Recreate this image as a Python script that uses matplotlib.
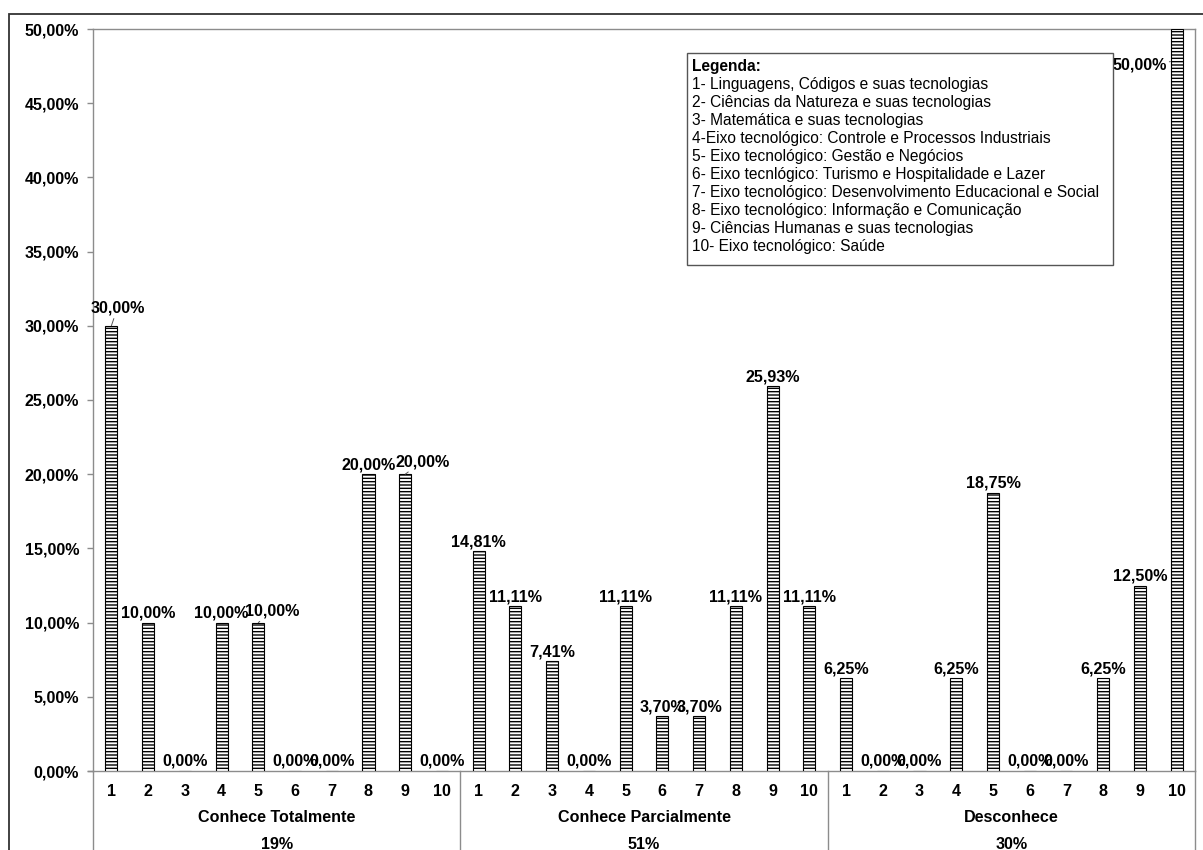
import matplotlib
matplotlib.use("Agg")
import matplotlib.pyplot as plt
from matplotlib.patches import Rectangle
from matplotlib.ticker import FuncFormatter
import matplotlib.transforms as mtransforms

plt.rcParams['font.family'] = ['Liberation Sans', 'DejaVu Sans']
plt.rcParams['hatch.linewidth'] = 1.0

# Survey results (%), one value per area for each level of knowledge
groups = ["Conhece Totalmente", "Conhece Parcialmente", "Desconhece"]
group_shares = ["19%", "51%", "30%"]
area_labels = ["1", "2", "3", "4", "5", "6", "7", "8", "9", "10"]
conhece_totalmente = [30.00, 10.00, 0.00, 10.00, 10.00, 0.00, 0.00, 20.00, 20.00, 0.00]
conhece_parcialmente = [14.81, 11.11, 7.41, 0.00, 11.11, 3.70, 3.70, 11.11, 25.93, 11.11]
desconhece = [6.25, 0.00, 0.00, 6.25, 18.75, 0.00, 0.00, 6.25, 12.50, 50.00]

legend_lines = [
    "1- Linguagens, Códigos e suas tecnologias",
    "2- Ciências da Natureza e suas tecnologias",
    "3- Matemática e suas tecnologias",
    "4-Eixo tecnológico: Controle e Processos Industriais",
    "5- Eixo tecnológico: Gestão e Negócios",
    "6- Eixo tecnlógico: Turismo e Hospitalidade e Lazer",
    "7- Eixo tecnológico: Desenvolvimento Educacional e Social",
    "8- Eixo tecnológico: Informação e Comunicação",
    "9- Ciências Humanas e suas tecnologias",
    "10- Eixo tecnológico: Saúde",
]

series = [conhece_totalmente, conhece_parcialmente, desconhece]
values = [v / 100 for s in series for v in s]
n_per = len(area_labels)
xs = list(range(len(values)))

FS = 11.6  # bold chart text size
W, H = 1203, 850
fig = plt.figure(figsize=(W / 100, H / 100), dpi=100)

# outer chart frame
fig.patches.append(Rectangle((9 / W, -0.1), 1.2, 1 - 14 / H + 0.1,
                             transform=fig.transFigure, fill=False,
                             edgecolor="#333333", lw=1.3, zorder=0))

ax = fig.add_axes([93 / W, 1 - 771 / H, (1195 - 93) / W, (771 - 29) / H])
ax.set_xlim(-0.5, len(values) - 0.5)
ax.set_ylim(0, 0.5)

ax.bar(xs, values, width=0.33, color="white", edgecolor="black",
       hatch="-----", linewidth=0.8, zorder=3)

gray = "#8c8c8c"
for side in ["top", "right", "left", "bottom"]:
    ax.spines[side].set_color(gray)
    ax.spines[side].set_linewidth(1.0)

ax.set_yticks([i * 0.05 for i in range(11)])
ax.yaxis.set_major_formatter(FuncFormatter(lambda v, p: f"{v * 100:.2f}%".replace(".", ",")))
ax.tick_params(axis="y", direction="out", length=4, width=1, color=gray, pad=6,
               labelsize=FS)
for lab in ax.get_yticklabels():
    lab.set_fontweight("bold")

ax.set_xticks(xs)
ax.set_xticklabels(area_labels * len(groups), fontsize=FS, fontweight="bold")
ax.tick_params(axis="x", length=0, pad=9.5)

# group separators and group captions below the axis
trans = mtransforms.blended_transform_factory(ax.transData, ax.transAxes)
for g in range(len(groups) + 1):
    xb = g * n_per - 0.5
    ax.plot([xb, xb], [0, -0.2], transform=trans, color=gray, lw=1.0,
            clip_on=False, zorder=1)
for g, (name, share) in enumerate(zip(groups, group_shares)):
    xc = g * n_per + (n_per - 1) / 2
    ax.text(xc, -0.063, name, transform=trans, ha="center", va="center",
            fontsize=FS, fontweight="bold")
    ax.text(xc, -0.099, share, transform=trans, ha="center", va="center",
            fontsize=FS, fontweight="bold")
ax.plot([-0.64, -0.5], [0, 0], transform=trans, color=gray, lw=1.0, clip_on=False)

# value labels; a few are moved aside with a leader line
moved = {0: (6, 8), 4: (14, 2), 8: (17, 3)}
leader = dict(arrowstyle="-", color="#555555", lw=0.7, shrinkA=0, shrinkB=0)
for i, v in enumerate(values):
    txt = f"{v * 100:.2f}%".replace(".", ",")
    if i == len(values) - 1:
        ax.annotate(txt, xy=(i - 0.17, v - 0.022), xytext=(-31, -36 + 33),
                    textcoords="offset pixels", ha="center", va="center",
                    fontsize=FS, fontweight="bold", annotation_clip=False,
                    zorder=5, arrowprops=leader)
    elif i in moved:
        dx, dy = moved[i]
        ax.annotate(txt, xy=(i, v), xytext=(dx, dy + 2), textcoords="offset pixels",
                    ha="center", va="bottom", fontsize=FS, fontweight="bold",
                    zorder=5, arrowprops=leader)
    else:
        ax.annotate(txt, xy=(i, v), xytext=(0, 2), textcoords="offset pixels",
                    ha="center", va="bottom", fontsize=FS, fontweight="bold",
                    zorder=5)

# legend box with the area descriptions
lx0, ly0, lx1, ly1 = 687, 53, 1113, 265
fig.patches.append(Rectangle((lx0 / W, 1 - ly1 / H), (lx1 - lx0) / W, (ly1 - ly0) / H,
                             transform=fig.transFigure, facecolor="white",
                             edgecolor="#555555", lw=1.0, zorder=4))
fig.text(692 / W, 1 - 66 / H, "Legenda:", ha="left", va="center",
         fontsize=11.2, fontweight="bold", zorder=5)
for k, line in enumerate(legend_lines):
    fig.text(692 / W, 1 - (84 + 18 * k) / H, line, ha="left", va="center",
             fontsize=11.2, zorder=5)

fig.savefig("out.png", dpi=100)
